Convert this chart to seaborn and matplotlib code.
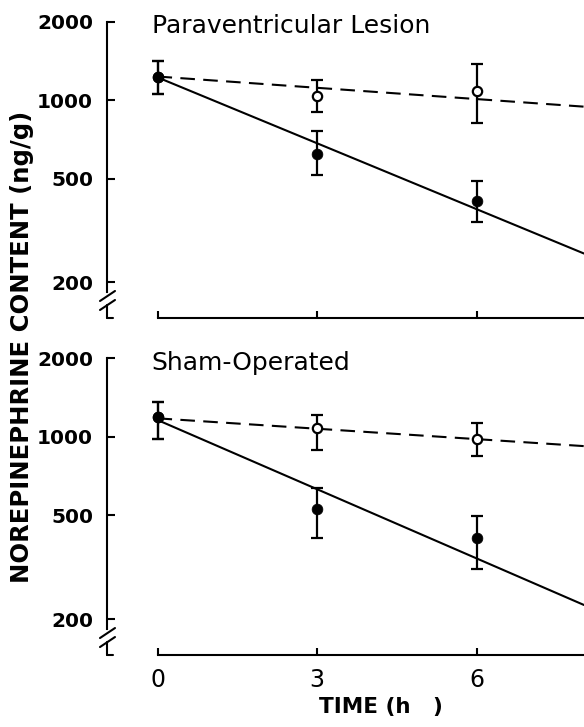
import numpy as np
import matplotlib
matplotlib.use("Agg")
import matplotlib.pyplot as plt
from matplotlib.ticker import NullLocator
import pandas as pd
import seaborn as sns

# panel titles and sampling times (h)
panels = ["Paraventricular Lesion", "Sham-Operated"]
hours = [0, 3, 6]

# norepinephrine content (ng/g): means and error bar ends
pvn_filled = [1230, 620, 412]
pvn_filled_hi = [1414, 762, 491]
pvn_filled_lo = [1057, 517, 340]
pvn_open = [1230, 1035, 1088]
pvn_open_hi = [1414, 1199, 1373]
pvn_open_lo = [1057, 904, 815]

sham_filled = [1189, 528, 411]
sham_filled_hi = [1357, 635, 499]
sham_filled_lo = [981, 409, 312]
sham_open = [1189, 1078, 981]
sham_open_hi = [1357, 1216, 1127]
sham_open_lo = [981, 890, 847]

# fitted decline lines (values at the start and at the right edge)
fit_hours = [0, 8.02]
pvn_solid = [1223, 258]
pvn_dashed = [1232, 944]
sham_solid = [1161, 227]
sham_dashed = [1178, 922]

yticks = [200, 500, 1000, 2000]
xticks = [0, 3, 6]

sns.set_style("ticks")
plt.rcParams['font.family'] = ['DejaVu Sans']
for k in ["text.color", "axes.labelcolor", "xtick.color", "ytick.color", "axes.edgecolor"]:
    plt.rcParams[k] = "black"

fig = plt.figure(figsize=(5.84, 7.27), dpi=100)
ax_top = fig.add_axes([0.1832, 0.5626, 0.8168, 0.4076])
ax_bot = fig.add_axes([0.1832, 0.0990, 0.8168, 0.4081])

panel_data = [
    (ax_top, pvn_filled, pvn_filled_lo, pvn_filled_hi, pvn_open, pvn_open_lo, pvn_open_hi, pvn_solid, pvn_dashed),
    (ax_bot, sham_filled, sham_filled_lo, sham_filled_hi, sham_open, sham_open_lo, sham_open_hi, sham_solid, sham_dashed),
]

for i, (ax, f, flo, fhi, o, olo, ohi, solid, dashed) in enumerate(panel_data):
    # fitted lines
    fits = pd.DataFrame({"h": fit_hours, "solid": solid, "dashed": dashed})
    sns.lineplot(data=fits, x="h", y="solid", ax=ax, color="black", lw=1.5, zorder=2)
    sns.lineplot(data=fits, x="h", y="dashed", ax=ax, color="black", lw=1.5,
                 linestyle=(0, (7, 4)), zorder=2)

    # error bars
    for vals, lo, hi in [(o, olo, ohi), (f, flo, fhi)]:
        v = np.array(vals)
        yerr = [v - np.array(lo), np.array(hi) - v]
        ax.errorbar(hours, v, yerr=yerr, fmt="none", ecolor="black",
                    elinewidth=1.6, capsize=4, capthick=1.6, zorder=3)

    # points
    pts = pd.DataFrame({"h": hours, "filled": f, "open": o})
    sns.scatterplot(data=pts, x="h", y="open", ax=ax, marker="o", s=45,
                    facecolor="white", edgecolor="black", linewidth=1.6, zorder=4)
    sns.scatterplot(data=pts, x="h", y="filled", ax=ax, marker="o", s=60,
                    color="black", edgecolor="black", linewidth=0.5, zorder=5)

    ax.set_yscale("log")
    ax.set_ylim(146, 2000)
    ax.set_xlim(-0.95, 8.02)
    ax.set_yticks(yticks)
    ax.set_yticklabels([str(t) for t in yticks], fontweight="bold", fontsize=14.5)
    ax.yaxis.set_minor_locator(NullLocator())
    ax.set_xticks(xticks)
    ax.set_xticklabels([str(t) for t in xticks], fontsize=17, fontweight="medium")
    ax.tick_params(axis="y", direction="in", length=6, width=1.5, pad=10)
    ax.tick_params(axis="x", direction="in", length=5, width=1.5, pad=9,
                   labelbottom=(i == 1))
    ax.set_xlabel("")
    ax.set_ylabel("")

    for s in ["top", "right"]:
        ax.spines[s].set_visible(False)
    ax.spines["left"].set_linewidth(1.5)
    ax.spines["bottom"].set_linewidth(1.5)
    ax.spines["left"].set_bounds(183.6, 2000)
    ax.spines["bottom"].set_bounds(0, 8.02)

    # axis break on the y axis
    h_px = ax.get_position().height * 727
    w_px = ax.get_position().width * 584
    kw = dict(transform=ax.transAxes, color="black", lw=1.5, clip_on=False)
    ax.plot([0, 0], [0, 13 / h_px], **kw)
    ax.plot([0, 6 / w_px], [0, 0], **kw)
    ax.plot([-7 / w_px, 8 / w_px], [17 / h_px, 27 / h_px], **kw)
    ax.plot([-7 / w_px, 8 / w_px], [8 / h_px, 18 / h_px], **kw)

    ax.text(0.094, 0.962, panels[i], transform=ax.transAxes, fontsize=18,
            ha="left", va="baseline")

fig.text(0.0377, 0.5227, "NOREPINEPHRINE CONTENT (ng/g)", rotation=90,
         fontsize=17.5, fontweight="bold", ha="center", va="center")
fig.text(0.652, 0.0193, "TIME (h   )", fontsize=15.5, fontweight="bold",
         ha="center", va="baseline")

fig.savefig("out.png", dpi=100)
